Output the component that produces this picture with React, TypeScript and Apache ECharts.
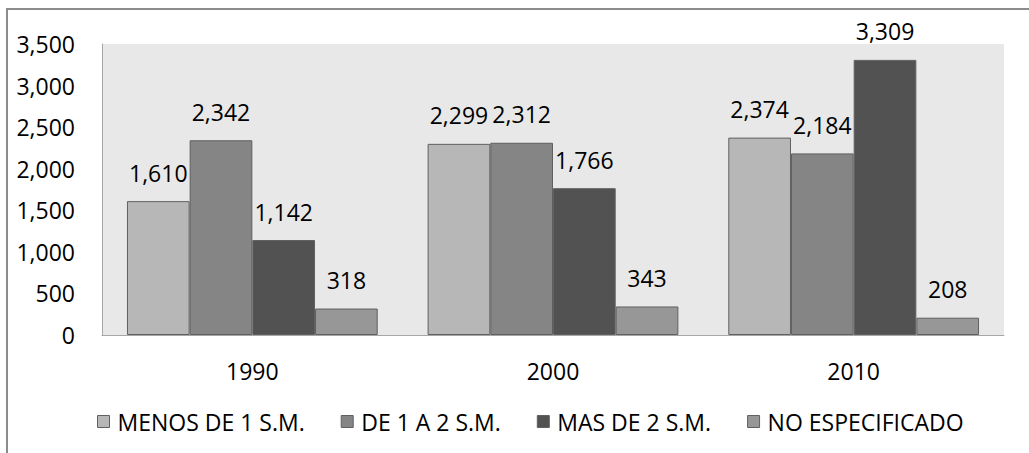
import React, { useEffect, useRef } from "react";
import * as echarts from "echarts";

const categories = ["1990", "2000", "2010"];
const seriesNames = ["MENOS DE 1 S.M.", "DE 1 A 2 S.M.", "MAS DE 2 S.M.", "NO ESPECIFICADO"];
const menos1 = [1610, 2299, 2374];
const de1a2 = [2342, 2312, 2184];
const mas2 = [1142, 1766, 3309];
const noEsp = [318, 343, 208];
const colors = ["#b7b7b7", "#858585", "#525252", "#979797"];

const FONT = "'Open Sans', sans-serif";
const FS = 23;

export default function App() {
  const ref = useRef<HTMLDivElement>(null);
  useEffect(() => {
    if (!ref.current) return;
    const chart = echarts.init(ref.current, undefined, { renderer: "svg" });
    const data = [menos1, de1a2, mas2, noEsp];
    chart.setOption({
      animation: false,
      textStyle: { fontFamily: FONT },
      graphic: [
        {
          type: "rect",
          shape: { x: 7, y: 9, width: 1200, height: 600 },
          style: { fill: "none", stroke: "#8c8c8c", lineWidth: 2 },
          silent: true,
          z: -1,
        },
      ],
      grid: {
        left: 102,
        top: 44,
        width: 902,
        height: 291,
        show: true,
        backgroundColor: "#e8e8e8",
        borderWidth: 0,
      },
      legend: {
        data: seriesNames,
        top: 405,
        left: 92,
        itemWidth: 12,
        itemHeight: 12,
        itemGap: 36,
        icon: "rect",
        itemStyle: { borderColor: "#606060", borderWidth: 1 },
        textStyle: { fontFamily: FONT, fontSize: FS, color: "#000", padding: [0, 0, 0, 3] },
      },
      xAxis: {
        type: "category",
        data: categories,
        axisLine: { show: true, lineStyle: { color: "#a6a6a6", width: 1 } },
        axisTick: { show: false },
        axisLabel: { fontFamily: FONT, fontSize: FS, color: "#000", margin: 24 },
      },
      yAxis: {
        type: "value",
        min: 0,
        max: 3500,
        interval: 500,
        splitLine: { show: false },
        axisLine: { show: true, lineStyle: { color: "#a6a6a6", width: 1 } },
        axisTick: { show: false },
        axisLabel: {
          fontFamily: FONT,
          fontSize: FS,
          color: "#000",
          margin: 27,
          formatter: (v: number) => v.toLocaleString("en-US"),
        },
      },
      series: seriesNames.map((name, i) => ({
        name,
        type: "bar",
        data: data[i],
        barGap: "0%",
        barCategoryGap: "16.6%",
        itemStyle: { color: colors[i], borderColor: "#606060", borderWidth: 1 },
        label: {
          show: true,
          position: "top",
          distance: 17,
          fontFamily: FONT,
          fontSize: FS,
          color: "#000",
          formatter: (p: any) => Number(p.value).toLocaleString("en-US"),
        },
      })),
    });
    return () => chart.dispose();
  }, []);
  return (
    <div
      ref={ref}
      style={{ position: "fixed", left: 0, top: 0, width: 1029, height: 453, background: "#fff" }}
    />
  );
}
